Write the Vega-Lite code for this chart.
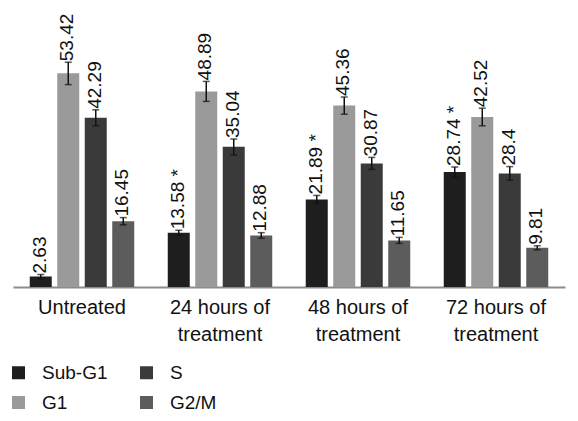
{
  "$schema": "https://vega.github.io/schema/vega-lite/v6.json",
  "width": 552,
  "height": 240,
  "autosize": "none",
  "padding": {"left": 13, "top": 47, "right": 13, "bottom": 134},
  "background": "white",
  "config": {"view": {"stroke": null}, "font": "Liberation Sans"},
  "data": {"values": [
    {"group": "Untreated", "phase": "Sub-G1", "value": 2.63, "lo": 2.13, "hi": 3.13, "label": "2.63"},
    {"group": "Untreated", "phase": "G1", "value": 53.42, "lo": 50.6, "hi": 56.2, "label": "53.42"},
    {"group": "Untreated", "phase": "S", "value": 42.29, "lo": 40.3, "hi": 44.3, "label": "42.29"},
    {"group": "Untreated", "phase": "G2/M", "value": 16.45, "lo": 15.55, "hi": 17.35, "label": "16.45"},
    {"group": "24 hours of treatment", "phase": "Sub-G1", "value": 13.58, "lo": 12.98, "hi": 14.18, "label": "13.58 *"},
    {"group": "24 hours of treatment", "phase": "G1", "value": 48.89, "lo": 46.4, "hi": 51.4, "label": "48.89"},
    {"group": "24 hours of treatment", "phase": "S", "value": 35.04, "lo": 33.0, "hi": 37.0, "label": "35.04"},
    {"group": "24 hours of treatment", "phase": "G2/M", "value": 12.88, "lo": 12.18, "hi": 13.58, "label": "12.88"},
    {"group": "48 hours of treatment", "phase": "Sub-G1", "value": 21.89, "lo": 20.89, "hi": 22.89, "label": "21.89 *"},
    {"group": "48 hours of treatment", "phase": "G1", "value": 45.36, "lo": 43.2, "hi": 47.5, "label": "45.36"},
    {"group": "48 hours of treatment", "phase": "S", "value": 30.87, "lo": 29.4, "hi": 32.4, "label": "30.87"},
    {"group": "48 hours of treatment", "phase": "G2/M", "value": 11.65, "lo": 10.9, "hi": 12.4, "label": "11.65"},
    {"group": "72 hours of treatment", "phase": "Sub-G1", "value": 28.74, "lo": 27.4, "hi": 30.0, "label": "28.74 *"},
    {"group": "72 hours of treatment", "phase": "G1", "value": 42.52, "lo": 40.3, "hi": 44.7, "label": "42.52"},
    {"group": "72 hours of treatment", "phase": "S", "value": 28.4, "lo": 26.7, "hi": 30.1, "label": "28.4"},
    {"group": "72 hours of treatment", "phase": "G2/M", "value": 9.81, "lo": 9.3, "hi": 10.3, "label": "9.81"}
  ]},
  "encoding": {
    "x": {
      "field": "group", "type": "nominal",
      "sort": ["Untreated", "24 hours of treatment", "48 hours of treatment", "72 hours of treatment"],
      "scale": {"paddingInner": 0.203, "paddingOuter": 0.1015},
      "axis": {
        "title": null, "labelAngle": 0, "ticks": false,
        "domainColor": "#8c8c8c", "domainWidth": 2,
        "labelFont": "Liberation Sans", "labelFontSize": 20, "labelColor": "#111",
        "labelPadding": 10, "labelLineHeight": 27,
        "labelExpr": "datum.label == 'Untreated' ? datum.label : [slice(datum.label, 0, 11), slice(datum.label, 12)]"
      }
    },
    "xOffset": {
      "field": "phase", "type": "nominal",
      "sort": ["Sub-G1", "G1", "S", "G2/M"],
      "scale": {"paddingInner": 0.2, "paddingOuter": 0.1}
    }
  },
  "layer": [
    {
      "mark": {"type": "bar"},
      "encoding": {
        "y": {"field": "value", "type": "quantitative", "scale": {"domain": [0, 60]}, "axis": null},
        "color": {
          "field": "phase", "type": "nominal",
          "scale": {"domain": ["Sub-G1", "G1", "S", "G2/M"], "range": ["#1e1e1e", "#9a9a9a", "#3a3a3a", "#5c5c5c"]},
          "legend": {
            "title": null, "orient": "none", "legendX": -4, "legendY": 316, "padding": 0,
            "columns": 2, "columnPadding": 29, "rowPadding": 10,
            "symbolType": "square", "symbolSize": 169, "symbolStrokeWidth": 0,
            "labelFont": "Liberation Sans", "labelFontSize": 19, "labelColor": "#111",
            "labelOffset": 14
          }
        }
      }
    },
    {
      "mark": {"type": "rule", "color": "#111", "strokeWidth": 1.5},
      "encoding": {
        "y": {"field": "lo", "type": "quantitative"},
        "y2": {"field": "hi"}
      }
    },
    {
      "mark": {"type": "tick", "color": "#111", "thickness": 1.5, "size": 7},
      "encoding": {"y": {"field": "lo", "type": "quantitative"}}
    },
    {
      "mark": {"type": "tick", "color": "#111", "thickness": 1.5, "size": 7},
      "encoding": {"y": {"field": "hi", "type": "quantitative"}}
    },
    {
      "mark": {"type": "text", "angle": 270, "align": "left", "baseline": "middle", "font": "Liberation Sans", "fontSize": 19, "color": "#111", "dy": -1, "dx": 1},
      "encoding": {
        "y": {"field": "hi", "type": "quantitative"},
        "text": {"field": "label"}
      }
    }
  ]
}
